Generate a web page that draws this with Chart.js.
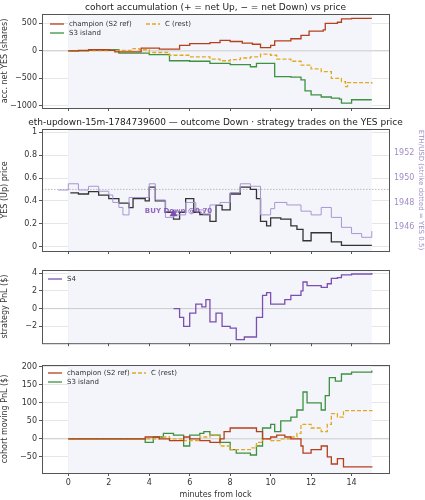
<!DOCTYPE html><html><head><meta charset="utf-8">
<script src="https://cdn.jsdelivr.net/npm/chart.js@4"></script>
<style>body{margin:0;width:425px;height:500px;position:relative;background:#fff;overflow:hidden}canvas{position:absolute;left:0}</style>
</head><body>
<canvas id="c1" style="top:0" width="425" height="125"></canvas>
<canvas id="c2" style="top:115px" width="425" height="145"></canvas>
<canvas id="c3" style="top:260px" width="425" height="90"></canvas>
<canvas id="c4" style="top:350px" width="425" height="150"></canvas>
<script>
// ---- data ----
const accChampT=[0,0.5,1,2,2.3,3.5,3.6,4.5,5.5,6,7,7.5,8,8.6,9.1,9.5,10,10.2,11,11.5,11.9,12.6,12.7,13.3,13.5,14,15];
const accChampV=[0,10,20,10,-20,-20,50,30,100,130,150,190,170,140,120,60,100,180,220,280,360,380,500,520,580,590,590];
const accCT=[0,1,2,3,3.2,3.5,4,4.7,5,6,7,7.5,8,8.5,9,9.5,10,10.3,11,11.5,12,12.5,13,13.5,13.7,13.8,14,15];
const accCV=[0,5,10,10,40,20,-30,-30,-80,-110,-150,-180,-160,-130,-110,-60,-80,-150,-190,-260,-330,-380,-500,-560,-650,-580,-580,-600];
const accS3T=[0,1,2,2.5,3.5,4,5,6,7,8,9,9.3,10,10.2,11,11.5,11.7,12,12.5,13,13.4,13.5,14,15];
const accS3V=[0,10,20,-40,-40,-70,-180,-190,-230,-250,-290,-230,-230,-470,-480,-530,-730,-800,-840,-860,-880,-950,-890,-890];
const yesT=[0.1,0.5,1,1.5,2,2.5,3,3.2,3.8,4,4.3,4.8,5.2,5.5,5.8,6.2,6.5,7,7.3,7.6,8,8.5,9,9.3,9.5,9.8,10,10.5,11,11.3,11.6,12,12.5,13,13.5,15];
const yesV=[0.47,0.46,0.48,0.45,0.42,0.38,0.34,0.42,0.40,0.52,0.40,0.30,0.24,0.30,0.42,0.30,0.28,0.22,0.36,0.32,0.46,0.52,0.50,0.42,0.22,0.18,0.25,0.24,0.18,0.15,0.05,0.12,0.12,0.04,0.01,0.01];
const ethT=[-0.5,0,0.5,1,1.5,2,2.2,2.5,2.7,3,4,4.3,4.8,5.2,5.8,6.3,6.7,7,7.5,8,8.5,9,9.5,10,10.2,10.8,11.5,12,12.5,13,13.5,14,14.5,15];
const ethV=[1949,1949.5,1949,1949.3,1948.9,1948.6,1948,1947.6,1947,1948.4,1949.5,1948.2,1946.8,1947,1948,1947.4,1947,1947.8,1948,1948.8,1949.5,1949.3,1947,1947.5,1948,1947.8,1947.3,1947,1947.6,1946.8,1946,1945.5,1945.2,1945.7];
const s4T=[5.2,5.5,5.7,6,6.3,6.6,6.8,7,7.3,7.6,8,8.3,8.7,9,9.3,9.6,9.8,10,10.3,10.7,11,11.3,11.5,11.6,11.8,12.5,12.8,13,13.3,13.5,14,15];
const s4V=[0,-1,-2,-0.5,0.5,0.2,1.0,-1.5,-0.5,-2,-2.2,-3.5,-3.2,-3.2,-1,1.5,1.8,0.5,0.5,1.0,1.5,1.5,2.0,3.0,2.6,2.4,2.8,3.4,3.5,3.8,3.9,4.0];
const pnlChampT=[0,3.5,3.8,4.5,5,5.7,6,6.5,7,7.5,7.7,8,9.3,9.6,10,10.3,10.7,11,11.5,11.6,12,12.5,12.8,13,13.3,13.6,14,15];
const pnlChampV=[0,0,5,0,-5,5,0,-5,-10,0,20,30,20,0,5,10,5,0,-20,-40,-30,-20,-50,-70,-55,-78,-78,-80];
const pnlCT=[0,3.5,4.5,5,5.7,6.5,7,7.5,8,8.5,9,9.3,9.6,10,10.5,11,11.3,11.5,12,12.5,12.8,13,13.3,13.6,15];
const pnlCV=[0,0,5,0,-5,5,10,-20,-30,-30,-25,-10,0,-5,0,5,15,40,30,20,40,70,60,78,80];
const pnlS3T=[0,3.5,3.8,4.2,4.7,5.2,5.7,6,6.5,6.7,7,7.5,8,8.3,9,9.3,9.6,10,10.2,10.5,11,11.3,11.6,11.8,12.5,12.7,12.9,13.2,13.5,14,15];
const pnlS3V=[0,0,-10,5,15,10,-20,10,15,20,10,-10,-30,-40,-45,-20,30,40,20,50,60,80,130,100,80,120,170,160,180,185,190];
const xTicks=[0,2,4,6,8,10,12,14];
// ---- helpers ----
const pts=(t,v)=>t.map((x,i)=>({x,y:v[i]}));
const FONT='DejaVu Sans';
Chart.defaults.font.family=FONT;Chart.defaults.font.size=8;Chart.defaults.color='#333';
const C_CH='#b5401c',C_C='#e0a920',C_S3='#3d9140',C_S4='#7a4fb0';
function ds(t,v,c,dash,extra){return Object.assign({data:pts(t,v),borderColor:c,borderWidth:1.3,stepped:true,pointRadius:0,borderDash:dash||[],fill:false},extra||{});}
const bgPlugin={id:'bg',beforeDatasetsDraw(ch,a,o){const {ctx,chartArea:ca,scales}=ch;const x=scales.x;ctx.save();ctx.fillStyle='#f4f5fb';const l=x.getPixelForValue(0),r=x.getPixelForValue(15);ctx.fillRect(l,ca.top,r-l,ca.bottom-ca.top);
 if(o.zero!=null){const y=scales.y.getPixelForValue(o.zero);ctx.strokeStyle='#ccc';ctx.lineWidth=1;ctx.beginPath();ctx.moveTo(ca.left,y);ctx.lineTo(ca.right,y);ctx.stroke();}
 ctx.restore();},
 afterDraw(ch,a,o){const {ctx,chartArea:ca}=ch;ctx.save();ctx.strokeStyle='#555';ctx.lineWidth=1;ctx.strokeRect(ca.left+0.5,ca.top+0.5,ca.right-ca.left,ca.bottom-ca.top);
 if(o.title){ctx.fillStyle='#222';ctx.font='9px '+FONT;ctx.textAlign='center';ctx.fillText(o.title,(ca.left+ca.right)/2,o.titleY);}
 if(o.legend){ctx.font='7px '+FONT;ctx.textAlign='left';ctx.textBaseline='middle';o.legend.forEach(e=>{const x=ca.left+e[0],y=ca.top+e[1];ctx.strokeStyle=e[3];ctx.lineWidth=1.3;ctx.setLineDash(e[4]||[]);ctx.beginPath();ctx.moveTo(x,y);ctx.lineTo(x+14,y);ctx.stroke();ctx.setLineDash([]);ctx.fillStyle='#333';ctx.fillText(e[2],x+19,y);});}
 if(o.marker){const m=o.marker;const x=ch.scales.x.getPixelForValue(m[0]),y=ch.scales.y.getPixelForValue(m[1]);ctx.fillStyle=C_S4;ctx.beginPath();ctx.moveTo(x,y-4);ctx.lineTo(x-4,y+3);ctx.lineTo(x+4,y+3);ctx.closePath();ctx.fill();ctx.font='bold 7px '+FONT;ctx.textBaseline='middle';ctx.fillStyle='rgba(122,79,176,0.85)';ctx.fillText(m[2],x+5,y-2);}
 ctx.restore();}};
Chart.register(bgPlugin);
function xAxis(h,show,title){return {type:'linear',min:-1.3,max:15.85,afterFit(s){s.height=h},afterBuildTicks(s){s.ticks=xTicks.map(v=>({value:v}))},
 grid:{color:'#e6e6ea',drawTicks:true,tickLength:3,tickColor:'#555'},border:{display:false},ticks:{display:show,padding:2},title:{display:!!title,text:title,font:{size:8},padding:0}};}
function yAxis(min,max,ticks,title,w){return {type:'linear',min,max,afterFit(s){s.width=w||42},afterBuildTicks(s){s.ticks=ticks.map(v=>({value:v}))},
 grid:{color:'#e6e6ea',tickLength:3,tickColor:'#555'},border:{display:false},ticks:{padding:2,callback:v=>v<0?'\u2212'+Math.abs(v):String(v)},title:{display:true,text:title,font:{size:8},padding:{top:0,bottom:2}}};}
function make(id,datasets,scales,opts,top){return new Chart(document.getElementById(id),{type:'line',data:{datasets},options:{responsive:false,animation:false,layout:{padding:{top,right:opts.right==null?36:opts.right,left:0,bottom:0}},plugins:{legend:{display:false},tooltip:{enabled:false},bg:opts},scales}});}
const L1=[[8,10,'champion (S2 ref)',C_CH],[104,10,'C (rest)',C_C,[4,2]],[8,19,'S3 island',C_S3]];
make('c1',[ds(accChampT,accChampV,C_CH),ds(accCT,accCV,C_C,[4,2]),ds(accS3T,accS3V,C_S3)],
 {x:xAxis(17,false),y:yAxis(-1040,670,[-1000,-500,0,500],'acc. net YES (shares)')},{title:'cohort accumulation (+ = net Up, \u2212 = net Down) vs price',titleY:10,legend:L1,zero:0},14);
make('c2',[ds(ethT,ethV,'#a994d4',[],{yAxisID:'y2',borderWidth:1}),ds(yesT,yesV,'#333',[],{borderWidth:1.3}),
 {data:[{x:-1.3,y:0.5},{x:15.85,y:0.5}],borderColor:'#bbb',borderWidth:1,borderDash:[1.5,1.5],pointRadius:0}],
 {x:xAxis(9,false),y:yAxis(-0.04,1.03,[0,0.2,0.4,0.6,0.8,1.0],'YES (Up) price'),
  y2:{position:'right',min:1944.1,max:1953.9,afterFit(s){s.width=36},afterBuildTicks(s){s.ticks=[1946,1948,1950,1952].map(v=>({value:v}))},grid:{display:false,tickLength:3,tickColor:'#555'},border:{display:false},ticks:{color:'#a08cc8',padding:2,callback:v=>String(v)},title:{display:true,text:'ETH/USD (strike dotted = YES 0.5)',color:'#a08cc8',font:{size:7},padding:0}}},
 {right:0,title:'eth-updown-15m-1784739600 \u2014 outcome Down \u00b7 strategy trades on the YES price',titleY:10,marker:[5.2,0.29,'BUY Down @0.70']},14);
make('c3',[ds(s4T,s4V,C_S4)],{x:xAxis(5,false),y:yAxis(-3.9,4.35,[-2,0,2,4],'strategy PnL ($)')},{legend:[[6,9,'S4',C_S4]],zero:0},10);
make('c4',[ds(pnlChampT,pnlChampV,C_CH),ds(pnlCT,pnlCV,C_C,[4,2]),ds(pnlS3T,pnlS3V,C_S3)],
 {x:xAxis(27,true,'minutes from lock'),y:yAxis(-95,205,[-50,0,50,100,150,200],'cohort moving PnL ($)')},{legend:[[6,8,'champion (S2 ref)',C_CH],[90,8,'C (rest)',C_C,[4,2]],[6,17,'S3 island',C_S3]],zero:0},15);
</script></body></html>
